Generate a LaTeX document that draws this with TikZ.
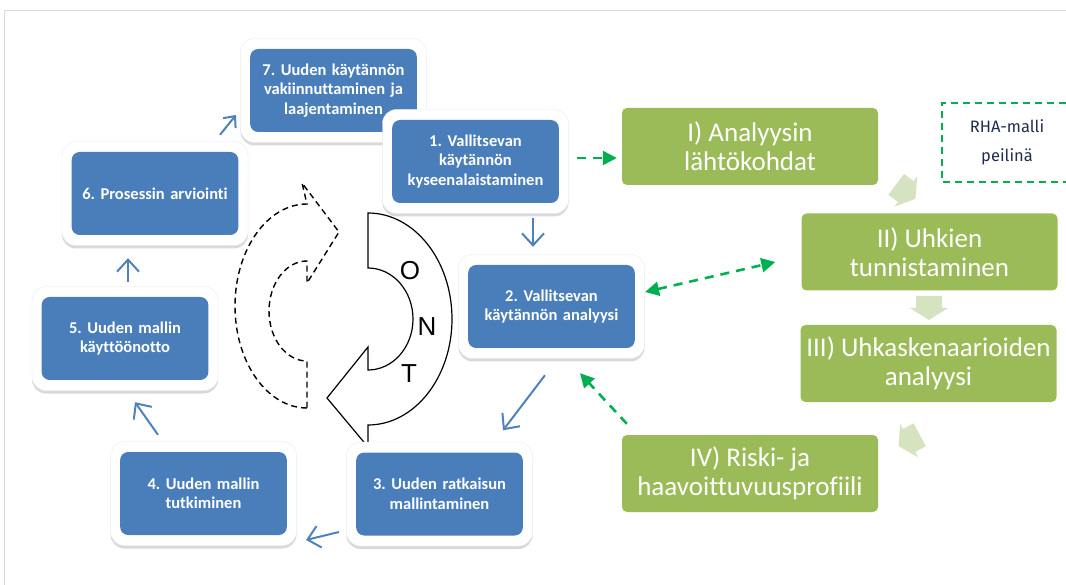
\documentclass[tikz,border=0pt]{standalone}
\usepackage{fontspec}
\setmainfont[Ligatures={NoCommon}]{Carlito}
\newfontfamily\notefont{Fira Sans}
\newfontfamily\letterfont{Liberation Sans}
\usetikzlibrary{arrows.meta,shadows}
\frenchspacing

\definecolor{boxblue}{HTML}{4A7EBB}
\definecolor{arrowblue}{HTML}{4F81BD}
\definecolor{stepgreen}{HTML}{9BBB59}
\definecolor{palegreen}{HTML}{D6E3C0}
\definecolor{linkgreen}{HTML}{00B050}
\definecolor{notenavy}{HTML}{1F2D4E}

\begin{document}
\begin{tikzpicture}[x=1pt,y=-1pt,
  frame/.style={fill=white, draw=black!8, rounded corners=14pt,
    minimum width=186pt, minimum height=104pt,
    drop shadow={shadow xshift=0pt, shadow yshift=-3pt, opacity=0.3}},
  bluebox/.style={fill=boxblue, rounded corners=8pt,
    minimum width=165pt, minimum height=83pt, text width=160pt,
    text=white, align=center, font=\bfseries\fontsize{16.5}{19.5}\selectfont},
  greenbox/.style={fill=stepgreen, rounded corners=5pt,
    minimum width=256pt, minimum height=77pt,
    text=white, align=center, font=\fontsize{27}{29}\selectfont},
  letter/.style={font=\letterfont\fontsize{26}{26}\selectfont},
  stepflow/.style={arrowblue, line width=2pt,
    -{Straight Barb[length=12pt,width=22pt]}},
  steplink/.style={linkgreen, line width=2.6pt, dash pattern=on 9pt off 7pt,
    -{Triangle[length=14pt,width=14pt]}},
  blockarrow/.pic={\fill[palegreen] (-11,-13) -- (1,-13) -- (1,-19) -- (13,0)
    -- (1,19) -- (1,13) -- (-11,13) -- cycle;}
]
\useasboundingbox (0,0) rectangle (1066,585);

% thin page frame
\draw[black!15, line width=1pt] (1066,11) -- (4,11) -- (4,585);

% dashed cycle arrow on the left
\draw[line width=1.4pt, dash pattern=on 6pt off 4pt]
  (307,408) arc[start angle=-90, end angle=-270, x radius=72pt, y radius=102pt]
  -- (302,183) -- (339,232) -- (307,283) -- (307,261)
  arc[start angle=90, end angle=270, x radius=38pt, y radius=50pt] -- cycle;

% solid O-N-T cycle arrow
\draw[line width=1.2pt, fill=white]
  (368,213) arc[start angle=90, end angle=-90, x radius=84pt, y radius=106pt]
  -- (368,447) -- (327,398) -- (368,347) -- (368,370)
  arc[start angle=-90, end angle=90, x radius=45pt, y radius=51pt] -- cycle;
\node[letter] (lo) at (410,271) {O};
\node[letter] (ln) at (427,327) {N};
\node[letter] (lt) at (409,374) {T};

% development steps
\node[frame] (f7) at (333.5,90.5) {};
\node[bluebox] (b7) at (333.5,90.5) {7. Uuden käytännön\\vakiinnuttaminen ja\\laajentaminen};
\node[frame] (f1) at (475.5,161.5) {};
\node[bluebox] (b1) at (475.5,161.5) {1. Vallitsevan\\käytännön\\kyseenalaistaminen};
\node[frame] (f6) at (155,193.5) {};
\node[bluebox] (b6) at (155,193.5) {6. Prosessin arviointi};
\node[frame] (f5) at (125,338.5) {};
\node[bluebox] (b5) at (125,338.5) {5. Uuden mallin\\käyttöönotto};
\node[frame] (f4) at (203.5,493.5) {};
\node[bluebox] (b4) at (203.5,493.5) {4. Uuden mallin\\tutkiminen};
\node[frame] (f3) at (439.5,494) {};
\node[bluebox] (b3) at (439.5,494) {3. Uuden ratkaisun\\mallintaminen};
\node[frame] (f2) at (551.5,306.5) {};
\node[bluebox] (b2) at (551.5,306.5) {2. Vallitsevan\\käytännön analyysi};

% flow between the steps
\draw[stepflow] ([xshift=57.5pt,yshift=-15pt]b1.south) -- ([xshift=-18.5pt,yshift=18pt]b2.north);
\draw[stepflow] ([xshift=-6.5pt,yshift=-27pt]b2.south) -- ([xshift=63.5pt,yshift=22pt]b3.north);
\draw[stepflow] ([xshift=-17pt,yshift=-38pt]b3.west) -- ([xshift=19pt,yshift=-46.5pt]b4.east);
\draw[stepflow] ([xshift=-45.5pt,yshift=17pt]b4.north) -- ([xshift=10pt,yshift=-22pt]b5.south);
\draw[stepflow] ([xshift=3pt,yshift=15pt]b5.north) -- ([xshift=-27pt,yshift=-23pt]b6.south);
\draw[arrowblue, line width=2pt, -{Straight Barb[length=9pt,width=16pt]}]
  ([xshift=65pt,yshift=17pt]b6.north) -- ([xshift=-14pt,yshift=-24.5pt]b7.west);

% RHA analysis phases
\node[greenbox] (g1) at (750,146.5) {I) Analyysin\\lähtökohdat};
\node[greenbox] (g2) at (929.5,252) {II) Uhkien\\tunnistaminen};
\node[greenbox] (g3) at (928.5,363.5) {III) Uhkaskenaarioiden\\analyysi};
\node[greenbox] (g4) at (750,473.5) {IV) Riski- ja\\haavoittuvuusprofiili};

\pic[rotate=-37] at (905,191) {blockarrow};
\pic[rotate=-90] at (929,307) {blockarrow};
\pic[rotate=-152] at (910,440) {blockarrow};

% note box, open towards the right edge
\draw[linkgreen, line width=1.2pt, dash pattern=on 7pt off 5pt]
  (1066,103) -- (942,103) -- (942,182) -- (1066,182);
\node[text=notenavy, align=center, font=\notefont\fontsize{16.5}{29}\selectfont]
  (rha) at (1007,142.5) {RHA-malli\\peilinä};

% links between the steps and the phases
\draw[steplink] ([xshift=18pt,yshift=3.5pt]b1.east) -- ([xshift=-5pt,yshift=-11.5pt]g1.west);
\draw[steplink, {Triangle[length=14pt,width=14pt]}-{Triangle[length=14pt,width=14pt]}]
  ([xshift=10pt,yshift=14.5pt]b2.east) -- ([xshift=-26pt,yshift=-10pt]g2.west);
\draw[steplink] ([xshift=5pt,yshift=11pt]g4.north west) -- ([xshift=28.5pt,yshift=-25pt]b2.south);
\end{tikzpicture}
\end{document}
